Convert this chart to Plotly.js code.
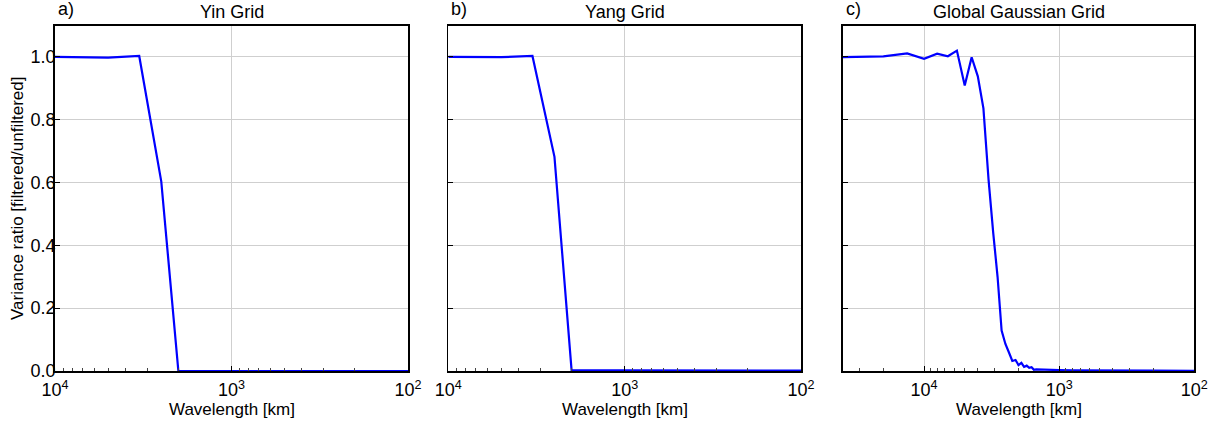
<!DOCTYPE html>
<html>
<head>
<meta charset="utf-8">
<script src="https://cdn.plot.ly/plotly-3.0.1.min.js"></script>
<style>html,body{margin:0;padding:0;background:#fff;}#chart{width:1228px;height:425px;}</style>
</head>
<body>
<div id="chart"></div>
<script>
// Panel a) Yin Grid
const yinWavelength = [10000, 5000, 3333, 2500, 2000, 1667, 1000, 500, 200, 100];
const yinRatio      = [1.000, 0.998, 1.003, 0.604, 0.000, 0.000, 0.000, 0.000, 0.000, 0.000];

// Panel b) Yang Grid
const yangWavelength = [10000, 5000, 3333, 2500, 2000, 1667, 1000, 500, 200, 100];
const yangRatio      = [1.000, 0.999, 1.003, 0.682, 0.003, 0.002, 0.002, 0.001, 0.001, 0.001];

// Panel c) Global Gaussian Grid
const gaussWavelength = [40000, 20000, 13333, 10000, 8000, 6667, 5714, 5000, 4444, 4000,
  3636, 3333, 3077, 2857, 2667, 2500, 2353, 2222, 2105, 2000,
  1905, 1818, 1739, 1667, 1600, 1538, 1481, 1333, 1000, 800, 500, 200, 100];
const gaussRatio = [0.999, 1.002, 1.011, 0.994, 1.010, 1.002, 1.020, 0.909, 0.999, 0.938,
  0.836, 0.610, 0.440, 0.300, 0.129, 0.086, 0.059, 0.032, 0.035, 0.019,
  0.026, 0.013, 0.017, 0.010, 0.012, 0.004, 0.005, 0.004, 0.003, 0.002, 0.001, 0.001, 0.0005];

const panelTitles = ['Yin Grid', 'Yang Grid', 'Global Gaussian Grid'];
const panelLetters = ['a)', 'b)', 'c)'];
const xTitle = 'Wavelength [km]';
const yTitle = 'Variance ratio [filtered/unfiltered]';
const xTickVals = [10000, 1000, 100];
const xTickText = ['10<sup>4</sup>', '10<sup>3</sup>', '10<sup>2</sup>'];
const yTickVals = [0, 0.2, 0.4, 0.6, 0.8, 1.0];

const W = 1228, H = 425;
const px = v => v / W;
const py = v => 1 - v / H;
const plotTop = 25.5, plotBottom = 371;
const xDomains = [[55, 408], [448.3, 801], [842.7, 1194.3]];
const xRanges = [[4, 2], [4, 2], [Math.log10(40000), 2]];

const font = 'Liberation Sans, Arial, sans-serif';
const lineStyle = {color: '#0000ff', width: 2.2};

const traces = [
  {x: yinWavelength, y: yinRatio, xaxis: 'x', yaxis: 'y'},
  {x: yangWavelength, y: yangRatio, xaxis: 'x2', yaxis: 'y2'},
  {x: gaussWavelength, y: gaussRatio, xaxis: 'x3', yaxis: 'y3'}
].map(t => Object.assign(t, {type: 'scatter', mode: 'lines', line: lineStyle, showlegend: false, hoverinfo: 'skip'}));

const layout = {
  width: W, height: H,
  margin: {l: 0, r: 0, t: 0, b: 0},
  paper_bgcolor: '#ffffff', plot_bgcolor: '#ffffff',
  font: {family: font, size: 18, color: '#000'},
  showlegend: false,
  annotations: [],
  shapes: []
};

for (let i = 0; i < 3; i++) {
  const s = i === 0 ? '' : String(i + 1);
  layout['xaxis' + s] = {
    type: 'log',
    domain: [px(xDomains[i][0]), px(xDomains[i][1])],
    range: xRanges[i],
    anchor: 'y' + s,
    tickvals: xTickVals, ticktext: xTickText,
    ticks: 'inside', ticklen: 5, tickcolor: '#000', tickwidth: 1,
    ticklabelstandoff: 2,
    minor: {ticks: 'inside', ticklen: 3, tickcolor: '#444', tickwidth: 1, dtick: 'D1', showgrid: false},
    showgrid: true, gridcolor: '#cfcfcf', gridwidth: 1,
    showline: true, linecolor: '#000', linewidth: 1.8, mirror: true,
    zeroline: false,
    tickfont: {family: font, size: 18, color: '#000'},
    automargin: false
  };
  layout['yaxis' + s] = {
    domain: [py(plotBottom), py(plotTop)],
    range: [0, 1.1],
    anchor: 'x' + s,
    tickvals: yTickVals, tickformat: '.1f',
    showticklabels: i === 0,
    ticks: 'inside', ticklen: 5, tickcolor: '#000', tickwidth: 1,
    ticklabelstandoff: -6,
    showgrid: true, gridcolor: '#cfcfcf', gridwidth: 1,
    showline: true, linecolor: '#000', linewidth: 1.8, mirror: true,
    zeroline: false,
    tickfont: {family: font, size: 18, color: '#000'},
    automargin: false
  };
  const cx = (xDomains[i][0] + xDomains[i][1]) / 2;
  layout.annotations.push({
    xref: 'paper', yref: 'paper', x: px(cx), y: py(12), xanchor: 'center', yanchor: 'middle',
    text: panelTitles[i], showarrow: false, font: {family: font, size: 18, color: '#000'}
  });
  layout.annotations.push({
    xref: 'paper', yref: 'paper', x: px(xDomains[i][0] + 1), y: py(9), xanchor: 'left', yanchor: 'middle',
    text: panelLetters[i], showarrow: false, font: {family: font, size: 18, color: '#000'}
  });
  layout.annotations.push({
    xref: 'paper', yref: 'paper', x: px(cx), y: py(409), xanchor: 'center', yanchor: 'middle',
    text: xTitle, showarrow: false, font: {family: font, size: 17, color: '#000'}
  });
}
layout.annotations.push({
  xref: 'paper', yref: 'paper', x: px(17), y: py(199), xanchor: 'center', yanchor: 'middle',
  text: yTitle, textangle: -90, showarrow: false, font: {family: font, size: 17, color: '#000'}
});

Plotly.newPlot('chart', traces, layout, {staticPlot: true, displayModeBar: false});
</script>
</body>
</html>
